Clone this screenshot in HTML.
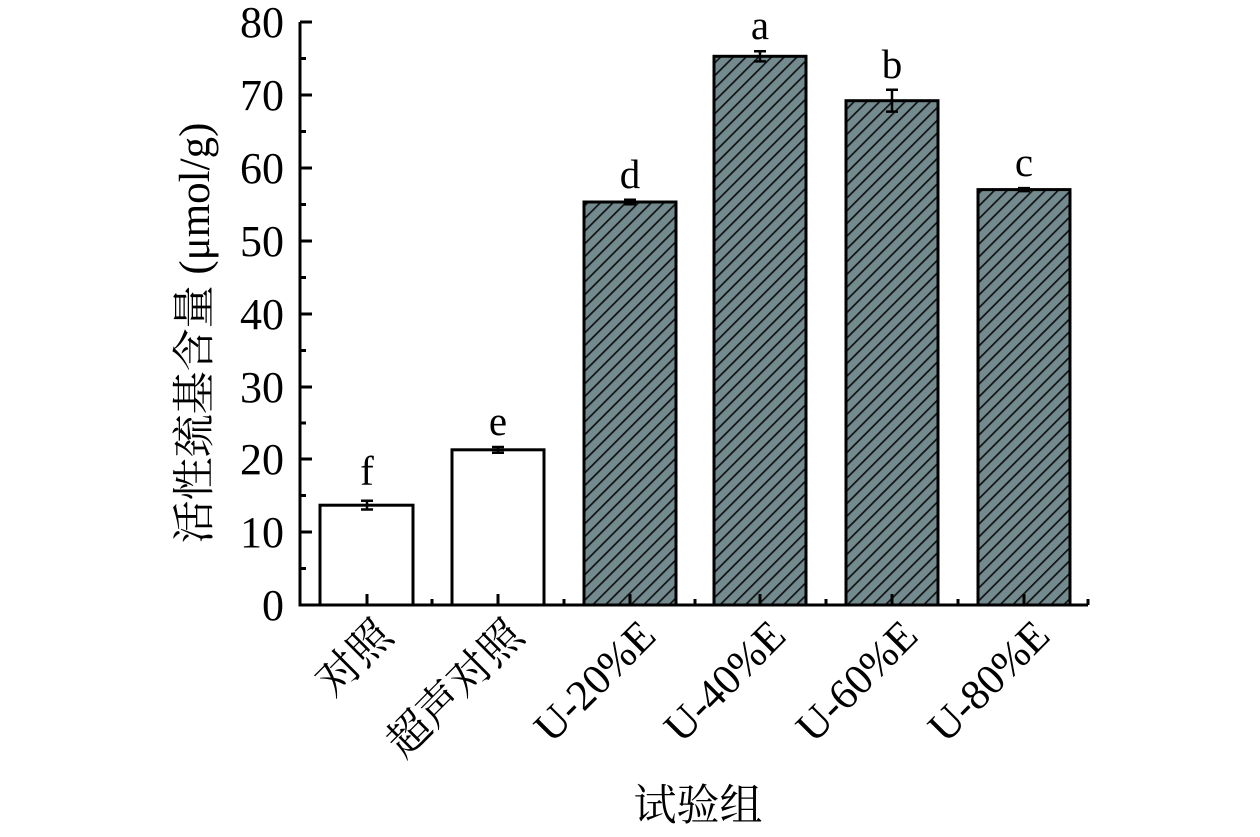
<!DOCTYPE html>
<html><head><meta charset="utf-8"><style>html,body{margin:0;padding:0;background:#fff}</style></head><body>
<svg width="1260" height="832" xmlns="http://www.w3.org/2000/svg" font-family="'Liberation Serif','Noto Serif CJK SC',serif">
<defs>
<pattern id="h" patternUnits="userSpaceOnUse" width="9" height="9" patternTransform="rotate(45)">
<rect width="9" height="9" fill="#738a8f"/>
<line x1="0" y1="0" x2="0" y2="9" stroke="#111" stroke-width="3.4"/>
</pattern>
</defs>
<g stroke="#000" stroke-width="3">
<rect x="320" y="505.2" width="93" height="99.8" fill="#fff"/>
<rect x="452" y="449.8" width="92" height="155.2" fill="#fff"/>
<rect x="584" y="202" width="92" height="403" fill="url(#h)"/>
<rect x="714" y="56.3" width="92" height="548.7" fill="url(#h)"/>
<rect x="846" y="100.7" width="92" height="504.3" fill="url(#h)"/>
<rect x="978" y="189.6" width="92" height="415.4" fill="url(#h)"/>
</g>
<g stroke="#000" stroke-width="2.5" fill="none">
<path d="M367 500.8V509.5M361 500.8H373M361 509.5H373"/>
<path d="M498 447V452.7M492 447H504M492 452.7H504"/>
<path d="M630 199.8V204.2M624 199.8H636M624 204.2H636"/>
<path d="M760 51.2V61.4M754 51.2H766M754 61.4H766"/>
<path d="M892 89.8V111.6M886 89.8H898M886 111.6H898"/>
<path d="M1024 188.1V191.1M1018 188.1H1030M1018 191.1H1030"/>
</g>
<g stroke="#000" stroke-width="3" fill="none">
<path d="M300 22V605H1088"/>
<path d="M300 22H312M300 95H312M300 168H312M300 241H312M300 314H312M300 387H312M300 459H312M300 532H312"/>
<path d="M300 58.5H306M300 131.5H306M300 204.5H306M300 277.5H306M300 350.5H306M300 423H306M300 495.5H306M300 568.5H306"/>
<path d="M367 605V594M498 605V594M630 605V594M760 605V594M892 605V594M1024 605V594"/>
<path d="M432 605V599M564 605V599M695 605V599M826 605V599M958 605V599M1088 605V599"/>
</g>
<g font-size="44" text-anchor="end">
<text x="284" y="37">80</text><text x="284" y="110">70</text><text x="284" y="183">60</text>
<text x="284" y="256">50</text><text x="284" y="329">40</text><text x="284" y="402">30</text>
<text x="284" y="474">20</text><text x="284" y="547">10</text><text x="284" y="620">0</text>
</g>
<g font-size="41" text-anchor="middle">
<text x="367" y="485">f</text><text x="498" y="435">e</text><text x="630" y="188">d</text>
<text x="760" y="39">a</text><text x="892" y="78">b</text><text x="1024" y="176">c</text>
</g>
<g font-size="43" text-anchor="end">
<text transform="translate(395,638) rotate(-45)">对照</text>
<text transform="translate(526,638) rotate(-45)">超声对照</text>
<text transform="translate(658,638) rotate(-45)">U-20%E</text>
<text transform="translate(788,638) rotate(-45)">U-40%E</text>
<text transform="translate(920,638) rotate(-45)">U-60%E</text>
<text transform="translate(1052,638) rotate(-45)">U-80%E</text>
</g>
<text font-size="43" text-anchor="middle" transform="translate(209,333) rotate(-90)">活性巯基含量 (μmol/g)</text>
<text font-size="43" x="698" y="820" text-anchor="middle">试验组</text>
</svg>
</body></html>
